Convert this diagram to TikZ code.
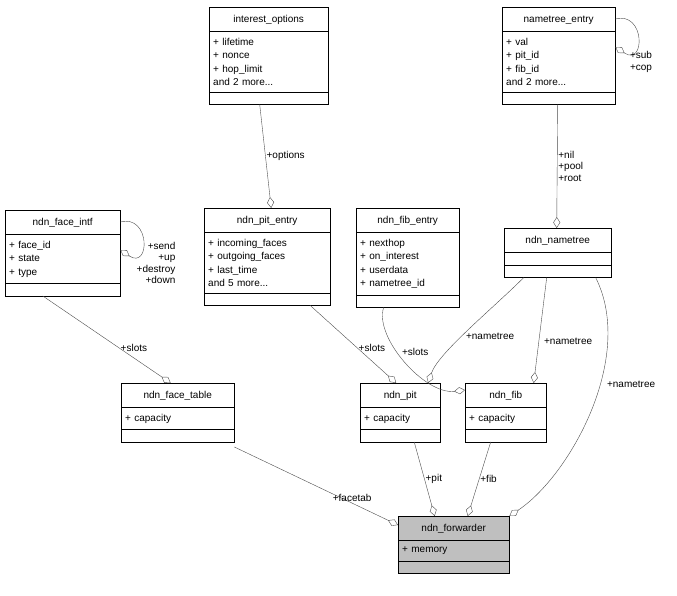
\documentclass[tikz,border=0pt]{standalone}
\usepackage{fontspec}
\setmainfont{Liberation Sans}
\usetikzlibrary{shapes.multipart,arrows.meta}

\newcommand{\ttl}[1]{\hbox to\linewidth{\hss#1\hss}}
\tikzset{
  cls/.style={draw=black, rectangle split, rectangle split parts=3,
    anchor=north west, align=left, inner xsep=4pt, inner ysep=6pt,
    text height=9pt, text depth=3pt,
    font=\fontsize{10}{13.5}\selectfont},
  main/.style={cls, fill=black!25, rectangle split part fill={black!30,black!25,black!25}},
  agg/.style={draw=black!70, -{Diamond[open,length=11pt,width=7pt]}},
  lbl/.style={font=\fontsize{10}{11.5}\selectfont, inner sep=1pt}
}

\begin{document}
\begin{tikzpicture}[x=1pt,y=-1pt]
\useasboundingbox (0,0) rectangle (677,595);
% classes
\node[cls, text width=111pt] (intopt) at (209,7)
  {\ttl{interest\_options}\nodepart{two}+ lifetime\\+ nonce\\+ hop\_limit\\and 2 more...\nodepart{three}\mbox{}};
\node[cls, text width=105pt] (ntentry) at (502,7)
  {\ttl{nametree\_entry}\nodepart{two}+ val\\+ pit\_id\\+ fib\_id\\and 2 more...\nodepart{three}\mbox{}};
\node[cls, text width=107pt] (faceintf) at (5,210)
  {\ttl{ndn\_face\_intf}\nodepart{two}+ face\_id\\+ state\\+ type\nodepart{three}\mbox{}};
\node[cls, text width=118pt] (pitentry) at (204,208)
  {\ttl{ndn\_pit\_entry}\nodepart{two}+ incoming\_faces\\+ outgoing\_faces\\+ last\_time\\and 5 more...\nodepart{three}\mbox{}};
\node[cls, text width=95pt] (fibentry) at (356,208)
  {\ttl{ndn\_fib\_entry}\nodepart{two}+ nexthop\\+ on\_interest\\+ userdata\\+ nametree\_id\nodepart{three}\mbox{}};
\node[cls, text width=99pt] (nametree) at (504,228)
  {\ttl{ndn\_nametree}\nodepart{two}\mbox{}\nodepart{three}\mbox{}};
\node[cls, text width=105pt] (facetab) at (121,383)
  {\ttl{ndn\_face\_table}\nodepart{two}+ capacity\nodepart{three}\mbox{}};
\node[cls, text width=72pt] (pit) at (360,383)
  {\ttl{ndn\_pit}\nodepart{two}+ capacity\nodepart{three}\mbox{}};
\node[cls, text width=73pt] (fib) at (465,383)
  {\ttl{ndn\_fib}\nodepart{two}+ capacity\nodepart{three}\mbox{}};
\node[main, text width=103pt] (fwd) at (398,516)
  {\ttl{ndn\_forwarder}\nodepart{two}+ memory\nodepart{three}\mbox{}};

% relations
\draw[agg] ([xshift=-9pt]intopt.south) -- ([xshift=4pt]pitentry.north) node[lbl, pos=0.5, right] {+options};
\draw[agg] ([xshift=-1pt]ntentry.south) -- ([xshift=-1pt]nametree.north)
  node[lbl, pos=0.5, right, align=left] {+nil\\+pool\\+root};
\draw[agg] ([yshift=-12pt]ntentry.north east) .. controls +(30,-8) and +(30,20) .. ([yshift=-40pt]ntentry.north east);
\node[lbl, align=left] at (641,62) {+sub\\+cop};
\draw[agg] ([yshift=-12pt]faceintf.north east) .. controls +(30,-8) and +(30,20) .. ([yshift=-40pt]faceintf.north east);
\node[lbl, align=right] at (156,263) {+send\\+up\\+destroy\\+down};
\draw[agg] ([xshift=-20pt]faceintf.south) -- ([xshift=-7pt]facetab.north) node[lbl, pos=0.6, right] {+slots};
\draw[agg] ([xshift=43pt]pitentry.south) -- ([xshift=-4pt]pit.north) node[lbl, pos=0.55, right] {+slots};
\draw[agg] ([xshift=-24pt]fibentry.south) .. controls +(-10,30) and +(-40,5) .. ([yshift=-7pt]fib.north west)
  node[lbl, pos=0.45, above right] {+slots};
\draw[agg] ([xshift=-34pt]nametree.south) .. controls +(-30,30) and +(10,-30) .. ([xshift=28pt]pit.north)
  node[lbl, pos=0.55, right, xshift=2pt] {+nametree};
\draw[agg] ([xshift=-11pt]nametree.south) -- ([xshift=28pt]fib.north) node[lbl, pos=0.6, right, xshift=4pt] {+nametree};
\draw[agg] ([xshift=38pt]nametree.south) .. controls +(40,80) and +(60,-40) .. (fwd.north east)
  node[lbl, pos=0.4, right, xshift=6pt] {+nametree};
\draw[agg] ([yshift=-64pt]facetab.north east) -- ([yshift=-9pt]fwd.north west) node[lbl, pos=0.72, above] {+facetab};
\draw[agg] ([xshift=14pt]pit.south) -- ([xshift=-19pt]fwd.north) node[lbl, pos=0.5, right] {+pit};
\draw[agg] ([xshift=-15pt]fib.south) -- ([xshift=14pt]fwd.north) node[lbl, pos=0.5, right] {+fib};
\end{tikzpicture}
\end{document}
